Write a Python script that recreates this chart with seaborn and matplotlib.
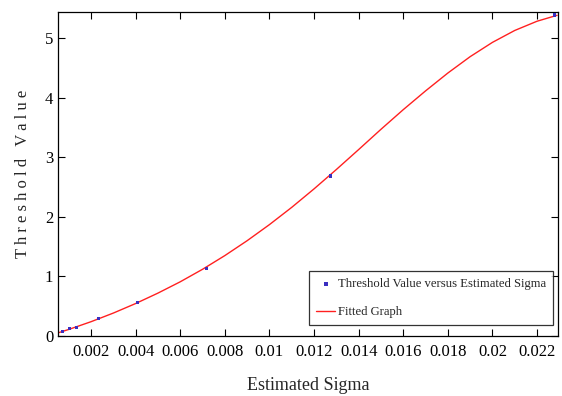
import numpy as np
import pandas as pd
import matplotlib
matplotlib.use("Agg")
import matplotlib.pyplot as plt
import seaborn as sns

# measured points
sigma_pts = [0.00071, 0.00104, 0.00133, 0.00233, 0.0041, 0.00716, 0.01272, 0.0228]
thresh_pts = [0.08, 0.12, 0.15, 0.29, 0.556, 1.14, 2.686, 5.39]

# fitted curve
sigma_fit = [0.0005, 0.001, 0.002, 0.003, 0.004, 0.005, 0.006, 0.007, 0.008, 0.009,
             0.010, 0.011, 0.012, 0.013, 0.014, 0.015, 0.016, 0.017, 0.018, 0.019,
             0.020, 0.021, 0.022, 0.0229]
thresh_fit = [0.05, 0.11, 0.24, 0.385, 0.545, 0.72, 0.91, 1.12, 1.35, 1.60,
              1.87, 2.16, 2.47, 2.795, 3.13, 3.47, 3.80, 4.115, 4.415, 4.69,
              4.93, 5.13, 5.285, 5.385]

xticks = [0.002, 0.004, 0.006, 0.008, 0.01, 0.012, 0.014, 0.016, 0.018, 0.02, 0.022]
xticklabels = ["0.002", "0.004", "0.006", "0.008", "0.01", "0.012", "0.014",
               "0.016", "0.018", "0.02", "0.022"]
yticks = [0, 1, 2, 3, 4, 5]

sns.set_style("ticks")
plt.rcParams["font.family"] = ["Liberation Serif", "DejaVu Serif"]
plt.rcParams["xtick.direction"] = "in"
plt.rcParams["ytick.direction"] = "in"

fig = plt.figure(figsize=(5.62, 3.96), dpi=100)
ax = fig.add_axes([0.1032, 0.1515, 0.8897, 0.8182])

pts = pd.DataFrame({"sigma": sigma_pts, "thresh": thresh_pts})
fit = pd.DataFrame({"sigma": sigma_fit, "thresh": thresh_fit})

sns.lineplot(data=fit, x="sigma", y="thresh", color="#ff2020", linewidth=1.0,
             ax=ax, label="Fitted Graph", zorder=2)
sns.scatterplot(data=pts, x="sigma", y="thresh", color="#3a2fc0", marker="s",
                s=5, edgecolor="none", ax=ax,
                label="Threshold Value versus Estimated Sigma", zorder=3)

ax.set_xlim(0.00052, 0.02294)
ax.set_ylim(0, 5.44)
ax.set_xticks(xticks)
ax.set_xticklabels(xticklabels)
ax.set_yticks(yticks)
ax.tick_params(top=True, right=True, length=5, width=0.8, labelsize=12,
               colors="black")
ax.tick_params(axis="x", pad=6)
for s in ax.spines.values():
    s.set_linewidth(0.9)
    s.set_color("black")

ax.set_xlabel("Estimated Sigma", fontsize=13, labelpad=12)
ax.set_ylabel("T h r e s h o l d   V a l u e", fontsize=12, labelpad=10)

handles, labels = ax.get_legend_handles_labels()
order = [1, 0]
leg = ax.legend([handles[i] for i in order], [labels[i] for i in order],
                loc="lower right", bbox_to_anchor=(0.99, 0.034), fontsize=9.1,
                frameon=True, fancybox=False, edgecolor="black",
                handlelength=1.5, borderpad=0.55, labelspacing=1.25,
                handletextpad=0.2, markerscale=1.2, borderaxespad=0)
leg.get_frame().set_linewidth(0.9)

fig.savefig("out.png", dpi=100)
